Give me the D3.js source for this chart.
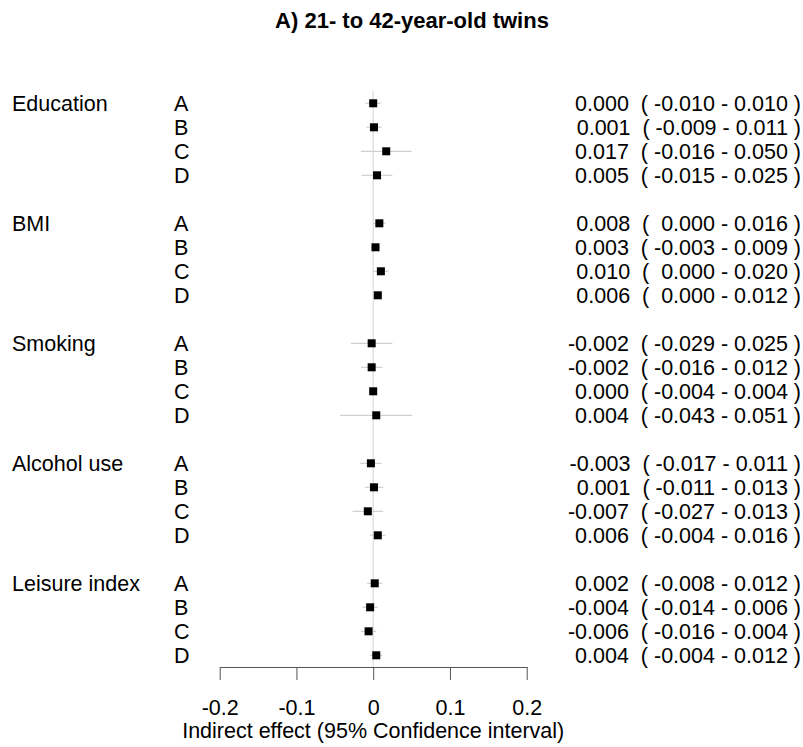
<!DOCTYPE html>
<html>
<head>
<meta charset="utf-8">
<script src="https://cdn.jsdelivr.net/npm/d3@7"></script>
<style>
  body { margin: 0; background: #fff; }
  svg { display: block; font-family: "Liberation Sans", Arial, sans-serif; }
  text { white-space: pre; }
</style>
</head>
<body>
<svg width="803" height="747"></svg>
<script>
const groups = ["Education", "BMI", "Smoking", "Alcohol use", "Leisure index"];
const models = ["A", "B", "C", "D"];

// estimate, lower and upper bound per group (models A-D)
const estimates = [
  [0.000, 0.001, 0.017, 0.005],
  [0.008, 0.003, 0.010, 0.006],
  [-0.002, -0.002, 0.000, 0.004],
  [-0.003, 0.001, -0.007, 0.006],
  [0.002, -0.004, -0.006, 0.004]
];
const lowers = [
  [-0.010, -0.009, -0.016, -0.015],
  [0.000, -0.003, 0.000, 0.000],
  [-0.029, -0.016, -0.004, -0.043],
  [-0.017, -0.011, -0.027, -0.004],
  [-0.008, -0.014, -0.016, -0.004]
];
const uppers = [
  [0.010, 0.011, 0.050, 0.025],
  [0.016, 0.009, 0.020, 0.012],
  [0.025, 0.012, 0.004, 0.051],
  [0.011, 0.013, 0.013, 0.016],
  [0.012, 0.006, 0.004, 0.012]
];

const tickValues = [-0.2, -0.1, 0, 0.1, 0.2];
const tickLabels = ["-0.2", "-0.1", "0", "0.1", "0.2"];

const title = "A) 21- to 42-year-old twins";
const xLabel = "Indirect effect (95% Confidence interval)";

const svg = d3.select("svg");
const fs = 21.5;

// one row per model, one blank row between groups
let rows = [];
groups.forEach((g, gi) => {
  models.forEach((m, mi) => {
    rows.push({
      group: g, model: m, first: mi === 0,
      row: gi * 5 + mi,
      est: estimates[gi][mi], lo: lowers[gi][mi], hi: uppers[gi][mi]
    });
  });
});

const x = d3.scaleLinear().domain([-0.2, 0.2]).range([219.7, 526.7]);
const y = d3.scaleLinear().domain([0, 23]).range([103.3, 655.3]);
const axisY = 667;

// plain hyphen minus, like the original
const fmt = (v) => v.toFixed(3);
const lbl = (d) => {
  const lo = d.lo < 0 ? fmt(d.lo) : " " + fmt(d.lo);
  return fmt(d.est) + "  ( " + lo + " - " + fmt(d.hi) + " )";
};

// title
svg.append("text")
  .attr("x", 412)
  .attr("y", 28)
  .attr("text-anchor", "middle")
  .attr("font-size", 22)
  .attr("font-weight", "bold")
  .text(title);

// zero line
svg.append("line")
  .attr("x1", x(0)).attr("x2", x(0))
  .attr("y1", 91).attr("y2", axisY)
  .attr("stroke", "#e2e2e2")
  .attr("stroke-width", 1.5);

// confidence intervals
svg.append("g")
  .selectAll("line")
  .data(rows)
  .enter().append("line")
  .attr("x1", (d) => x(d.lo))
  .attr("x2", (d) => x(d.hi))
  .attr("y1", (d) => y(d.row))
  .attr("y2", (d) => y(d.row))
  .attr("stroke", "#cfcfcf")
  .attr("stroke-width", 1.2);

// point estimates
svg.append("g")
  .selectAll("rect")
  .data(rows)
  .enter().append("rect")
  .attr("x", (d) => x(d.est) - 4)
  .attr("y", (d) => y(d.row) - 4)
  .attr("width", 8)
  .attr("height", 8)
  .attr("fill", "#000");

// group labels
svg.append("g")
  .selectAll("text")
  .data(rows.filter((d) => d.first))
  .enter().append("text")
  .attr("x", 12)
  .attr("y", (d) => y(d.row))
  .attr("dy", "0.35em")
  .attr("font-size", fs)
  .text((d) => d.group);

// model letters
svg.append("g")
  .selectAll("text")
  .data(rows)
  .enter().append("text")
  .attr("x", 174)
  .attr("y", (d) => y(d.row))
  .attr("dy", "0.35em")
  .attr("font-size", fs)
  .text((d) => d.model);

// estimate (CI) column
svg.append("g")
  .selectAll("text")
  .data(rows)
  .enter().append("text")
  .attr("x", 801)
  .attr("y", (d) => y(d.row))
  .attr("dy", "0.35em")
  .attr("text-anchor", "end")
  .attr("font-size", fs)
  .text(lbl);

// x axis
const axis = svg.append("g")
  .attr("transform", "translate(0," + axisY + ")")
  .call(d3.axisBottom(x)
    .tickValues(tickValues)
    .tickFormat((d, i) => tickLabels[i])
    .tickSize(13)
    .tickPadding(20)
    .tickSizeOuter(0));
axis.select(".domain").attr("stroke", "#555");
axis.selectAll(".tick line").attr("stroke", "#555");
axis.selectAll(".tick text")
  .attr("font-size", fs)
  .attr("font-family", "Liberation Sans, Arial, sans-serif")
  .attr("fill", "#000");

svg.append("text")
  .attr("x", x(0))
  .attr("y", 738)
  .attr("text-anchor", "middle")
  .attr("font-size", fs)
  .text(xLabel);
</script>
</body>
</html>
